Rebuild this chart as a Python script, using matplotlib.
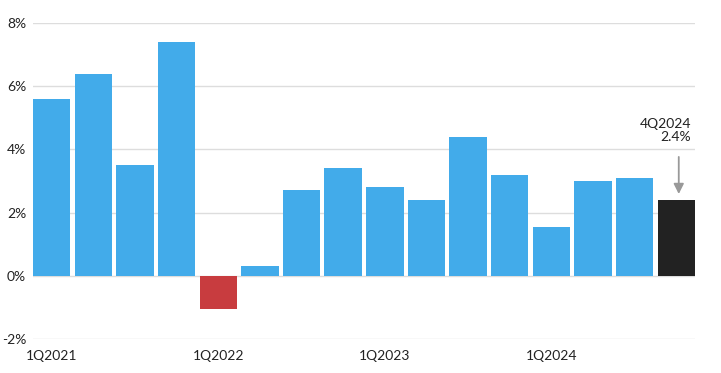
import numpy as np
import matplotlib
matplotlib.use('Agg')
import matplotlib.pyplot as plt

quarters = ['1Q2021', '2Q2021', '3Q2021', '4Q2021',
            '1Q2022', '2Q2022', '3Q2022', '4Q2022',
            '1Q2023', '2Q2023', '3Q2023', '4Q2023',
            '1Q2024', '2Q2024', '3Q2024', '4Q2024']
growth = [5.6, 6.4, 3.5, 7.4, -1.05, 0.3, 2.7, 3.4,
          2.8, 2.4, 4.4, 3.2, 1.55, 3.0, 3.1, 2.4]
yticks = [-2, 0, 2, 4, 6, 8]
xtick_labels = ['1Q2021', '1Q2022', '1Q2023', '1Q2024']

blue = '#42abea'
red = '#c83c3f'
black = '#222222'

plt.rcParams['font.family'] = ['Lato', 'DejaVu Sans']

fig = plt.figure(figsize=(7.21, 3.73), dpi=100)
ax = fig.add_axes([33 / 721, 1 - 339 / 373, (695 - 33) / 721, (339 - 23) / 373])

x = np.arange(len(quarters))
colors = []
for i, v in enumerate(growth):
	if i == len(growth) - 1:
		colors.append(black)
	elif v < 0:
		colors.append(red)
	else:
		colors.append(blue)

ax.bar(x, growth, width=0.9, color=colors, zorder=3)

ax.set_ylim(-2, 8)
ax.set_xlim(-0.45, len(quarters) - 0.55)
ax.set_yticks(yticks)
ax.set_yticklabels(['%d%%' % t for t in yticks])
ax.set_xticks([quarters.index(q) for q in xtick_labels])
ax.set_xticklabels(xtick_labels)
ax.grid(axis='y', color='#dddddd', lw=1, zorder=0)
ax.tick_params(axis='both', length=0, labelsize=10, labelcolor='#222222')
ax.tick_params(axis='y', pad=5)
ax.tick_params(axis='x', pad=8)
for s in ax.spines.values():
	s.set_visible(False)

last = len(growth) - 1
ax.annotate('', xy=(last + 0.06, growth[-1] + 0.1), xytext=(last + 0.06, 3.85),
            arrowprops=dict(arrowstyle='-|>', color='#999999', lw=1.3, mutation_scale=15),
            annotation_clip=False)
ax.text(last + 0.35, 4.2, '%s\n%.1f%%' % (quarters[-1], growth[-1]), ha='right', va='bottom',
        fontsize=10, color='#222222', linespacing=1.1)

fig.savefig('out.png', dpi=100)
